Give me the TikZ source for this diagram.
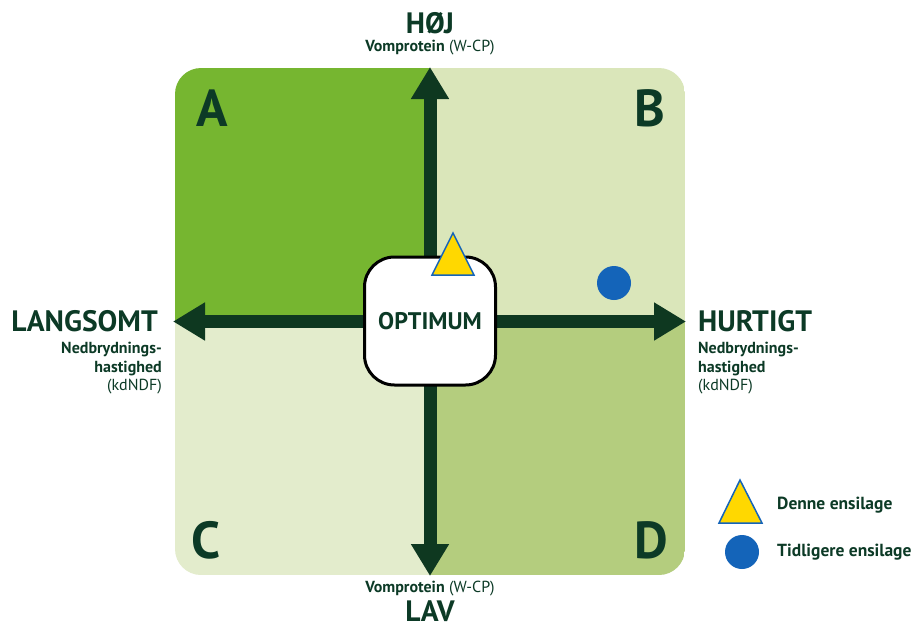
\documentclass[tikz,border=0pt]{standalone}
\usepackage{fontspec}
\setmainfont{PT Sans}
\usetikzlibrary{arrows.meta}
\definecolor{qa}{RGB}{118,182,48}
\definecolor{qb}{RGB}{218,230,186}
\definecolor{qc}{RGB}{227,236,204}
\definecolor{qd}{RGB}{180,205,126}
\definecolor{dk}{RGB}{14,56,32}
\definecolor{txt}{RGB}{12,58,38}
\definecolor{yel}{RGB}{255,216,0}
\definecolor{blu}{RGB}{20,100,185}
\tikzset{
  axis/.style={line width=13pt, draw=dk, {Triangle[length=32pt,width=36pt]}-{Triangle[length=32pt,width=36pt]}},
  bigtxt/.style={font=\bfseries\fontsize{29.5}{32}\selectfont, text=txt, inner sep=0pt},
  qlet/.style={font=\bfseries\fontsize{52}{54}\selectfont, text=txt, inner sep=0pt},
  subtxt/.style={font=\fontsize{16}{18.7}\selectfont, text=txt, inner sep=0pt},
  legtxt/.style={font=\bfseries\fontsize{17.5}{19}\selectfont, text=txt, inner sep=0pt, anchor=west},
  tri/.style={fill=yel, draw=blu, line width=1.5pt, line join=miter},
  dot/.style={fill=blu, draw=none, circle, minimum size=34pt, inner sep=0pt}
}
\begin{document}
\begin{tikzpicture}[x=1pt,y=-1pt]
\useasboundingbox (0,0) rectangle (914,630);
\fill[white] (0,0) rectangle (914,630);
% quadrants
\begin{scope}
\clip[rounded corners=26pt] (175,68) rectangle (685,575);
\fill[qa] (175,68) rectangle (430,321.5);
\fill[qb] (430,68) rectangle (685,321.5);
\fill[qc] (175,321.5) rectangle (430,575);
\fill[qd] (430,321.5) rectangle (685,575);
\end{scope}
% quadrant letters
\node[qlet] (A) at (212,108) {A};
\node[qlet] (B) at (650,108) {B};
\node[qlet] (C) at (206,540) {C};
\node[qlet] (D) at (651,540) {D};
% axes
\coordinate (top) at (430,67);
\coordinate (bot) at (430,576);
\coordinate (lft) at (173,321.5);
\coordinate (rgt) at (686,321.5);
\draw[axis] (bot) -- (top);
\draw[axis] (lft) -- (rgt);
% optimum box
\node[draw=black, line width=3pt, fill=white, rounded corners=30pt, minimum width=131pt, minimum height=128pt, font=\bfseries\fontsize{24}{26}\selectfont, text=txt] (opt) at (430,321) {OPTIMUM};
% markers
\draw[tri] (453,233) coordinate (ta) -- (474,275) -- (432,275) -- cycle;
\node[dot] (prev) at (614,283) {};
% axis labels
\node[bigtxt] (hoj) at (430,23.5) {HØJ};
\node[subtxt] (vt) at (430,48) {\textbf{Vomprotein} (W-CP)};
\node[subtxt] (vb) at (430,589) {\textbf{Vomprotein} (W-CP)};
\node[bigtxt] (lav) at (430,611) {LAV};
\node[bigtxt, anchor=east] (lang) at (158,321.5) {LANGSOMT};
\node[subtxt, anchor=north east, align=right] (langs) at (162,342) {\textbf{Nedbrydnings-}\\\textbf{hastighed}\\(kdNDF)};
\node[bigtxt, anchor=west] (hurt) at (698,321.5) {HURTIGT};
\node[subtxt, anchor=north west, align=left] (hurts) at (698,342) {\textbf{Nedbrydnings-}\\\textbf{hastighed}\\(kdNDF)};
% legend
\draw[tri] (740,480) -- (762,523) -- (719,523) -- cycle;
\node[legtxt] (l1) at (777,505) {Denne ensilage};
\node[dot] (ldot) at (742,552) {};
\node[legtxt] (l2) at (777,552) {Tidligere ensilage};
\end{tikzpicture}
\end{document}
